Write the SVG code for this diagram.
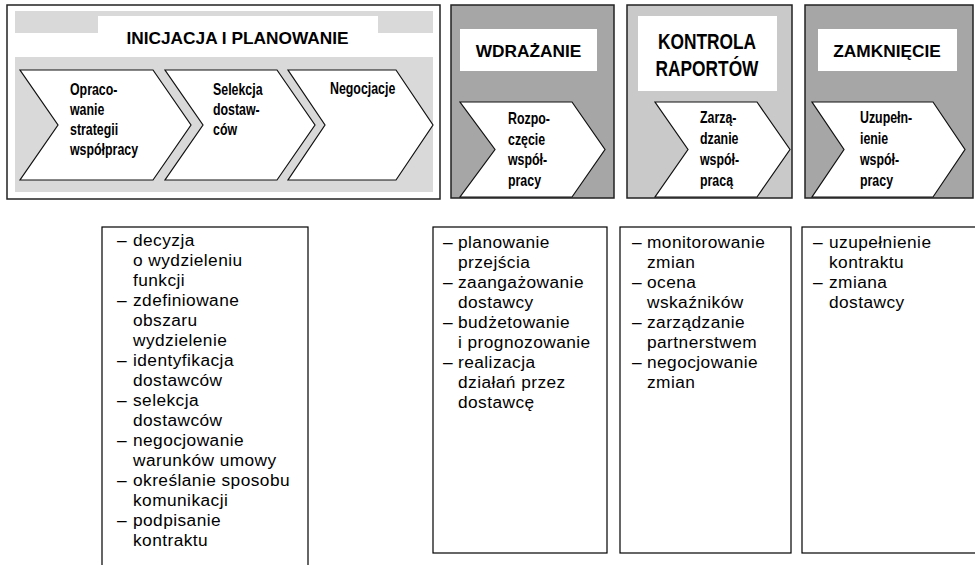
<svg xmlns="http://www.w3.org/2000/svg" width="975" height="565" viewBox="0 0 975 565">
<style>
.frame{stroke:#222;stroke-width:1.5}
.chev{fill:#fff;stroke:#111;stroke-width:1.2;stroke-linejoin:miter}
.hd{font-family:"Liberation Sans",Arial,sans-serif;font-weight:bold;font-size:17.3px;fill:#000;text-anchor:middle}
.ct{font-family:"Liberation Sans",Arial,sans-serif;font-weight:bold;font-size:16.5px;fill:#000}
.lst{font-family:"Liberation Sans",Arial,sans-serif;font-size:17.3px;letter-spacing:0.45px;fill:#000}
.lbox{fill:#fff;stroke:#000;stroke-width:1.2}
</style>
<rect width="975" height="565" fill="#fff"/>

<g id="initiation">
  <rect class="frame" x="7" y="5" width="433" height="194" fill="#fff"/>
  <rect x="15" y="11" width="418" height="22" fill="#d9d9d9"/>
  <rect x="15" y="57" width="418" height="135" fill="#d9d9d9"/>
  <rect x="98" y="16" width="280" height="41" fill="#fff"/>
  <text class="hd" x="237.5" y="44">INICJACJA I PLANOWANIE</text>
  <g id="step-opracowanie">
    <polygon class="chev" points="20,70 153,70 191,125 153,180 20,180 58,125"/>
    <text class="ct" transform="translate(70,0) scale(0.75,1)"><tspan x="0" y="95">Opraco-</tspan><tspan x="0" y="115">wanie</tspan><tspan x="0" y="135">strategii</tspan><tspan x="0" y="155">współpracy</tspan></text>
  </g>
  <g id="step-selekcja">
    <polygon class="chev" points="165,70 277,70 315,125 277,180 165,180 203,125"/>
    <text class="ct" transform="translate(213,0) scale(0.75,1)"><tspan x="0" y="95">Selekcja</tspan><tspan x="0" y="115">dostaw-</tspan><tspan x="0" y="135">ców</tspan></text>
  </g>
  <g id="step-negocjacje">
    <polygon class="chev" points="288,70 396,70 433,125 396,180 288,180 325,125"/>
    <text class="ct" transform="translate(330,0) scale(0.75,1)"><tspan x="0" y="94">Negocjacje</tspan></text>
  </g>
</g>

<g id="wdrazanie">
  <rect class="frame" x="451" y="5" width="163" height="193" fill="#a6a6a6"/>
  <rect x="460" y="29" width="137" height="42" fill="#fff"/>
  <text class="hd" x="528.5" y="57">WDRAŻANIE</text>
  <polygon class="chev" points="460,102 572,102 605,149.5 572,197 460,197 495,149.5"/>
  <text class="ct" transform="translate(508,0) scale(0.75,1)"><tspan x="0" y="124">Rozpo-</tspan><tspan x="0" y="145">częcie</tspan><tspan x="0" y="165.5">współ-</tspan><tspan x="0" y="186">pracy</tspan></text>
</g>

<g id="kontrola">
  <rect class="frame" x="627" y="5" width="165" height="193" fill="#c9c9c9"/>
  <rect x="638" y="16" width="139" height="75" fill="#fff"/>
  <text class="hd" style="font-size:22.5px" transform="translate(707,0) scale(0.77,1)"><tspan x="0" y="49">KONTROLA</tspan><tspan x="0" y="76">RAPORTÓW</tspan></text>
  <polygon class="chev" points="655,102 757,102 790,149.5 757,197 655,197 688,149.5"/>
  <text class="ct" transform="translate(700,0) scale(0.75,1)"><tspan x="0" y="123">Zarzą-</tspan><tspan x="0" y="144">dzanie</tspan><tspan x="0" y="165">współ-</tspan><tspan x="0" y="186">pracą</tspan></text>
</g>

<g id="zamkniecie">
  <rect class="frame" x="805" y="5" width="168" height="193" fill="#a6a6a6"/>
  <rect x="818" y="29" width="139" height="42" fill="#fff"/>
  <text class="hd" x="887" y="57">ZAMKNIĘCIE</text>
  <polygon class="chev" points="812,102 933,102 965,149.5 933,197 812,197 844,149.5"/>
  <text class="ct" transform="translate(860,0) scale(0.75,1)"><tspan x="0" y="123">Uzupełn-</tspan><tspan x="0" y="144">ienie</tspan><tspan x="0" y="165">współ-</tspan><tspan x="0" y="186">pracy</tspan></text>
</g>

<g id="connectors"></g>

<g id="list-initiation">
  <rect class="lbox" x="102" y="227" width="206" height="350"/>
  <text class="lst">
    <tspan x="117" y="246">–</tspan><tspan x="133" y="246">decyzja</tspan>
    <tspan x="133" y="266">o wydzieleniu</tspan>
    <tspan x="133" y="286">funkcji</tspan>
    <tspan x="117" y="306">–</tspan><tspan x="133" y="306">zdefiniowane</tspan>
    <tspan x="133" y="326">obszaru</tspan>
    <tspan x="133" y="346">wydzielenie</tspan>
    <tspan x="117" y="366">–</tspan><tspan x="133" y="366">identyfikacja</tspan>
    <tspan x="133" y="386">dostawców</tspan>
    <tspan x="117" y="406">–</tspan><tspan x="133" y="406">selekcja</tspan>
    <tspan x="133" y="426">dostawców</tspan>
    <tspan x="117" y="446">–</tspan><tspan x="133" y="446">negocjowanie</tspan>
    <tspan x="133" y="466">warunków umowy</tspan>
    <tspan x="117" y="486">–</tspan><tspan x="133" y="486">określanie sposobu</tspan>
    <tspan x="133" y="506">komunikacji</tspan>
    <tspan x="117" y="526">–</tspan><tspan x="133" y="526">podpisanie</tspan>
    <tspan x="133" y="546">kontraktu</tspan>
  </text>
</g>

<g id="list-wdrazanie">
  <rect class="lbox" x="433" y="227" width="174" height="326"/>
  <text class="lst">
    <tspan x="443" y="248">–</tspan><tspan x="458" y="248">planowanie</tspan>
    <tspan x="458" y="268">przejścia</tspan>
    <tspan x="443" y="288">–</tspan><tspan x="458" y="288">zaangażowanie</tspan>
    <tspan x="458" y="308">dostawcy</tspan>
    <tspan x="443" y="328">–</tspan><tspan x="458" y="328">budżetowanie</tspan>
    <tspan x="458" y="348">i prognozowanie</tspan>
    <tspan x="443" y="368">–</tspan><tspan x="458" y="368">realizacja</tspan>
    <tspan x="458" y="388">działań przez</tspan>
    <tspan x="458" y="408">dostawcę</tspan>
  </text>
</g>

<g id="list-kontrola">
  <rect class="lbox" x="620" y="227" width="171" height="326"/>
  <text class="lst">
    <tspan x="632" y="248">–</tspan><tspan x="647" y="248">monitorowanie</tspan>
    <tspan x="647" y="268">zmian</tspan>
    <tspan x="632" y="288">–</tspan><tspan x="647" y="288">ocena</tspan>
    <tspan x="647" y="308">wskaźników</tspan>
    <tspan x="632" y="328">–</tspan><tspan x="647" y="328">zarządzanie</tspan>
    <tspan x="647" y="348">partnerstwem</tspan>
    <tspan x="632" y="368">–</tspan><tspan x="647" y="368">negocjowanie</tspan>
    <tspan x="647" y="388">zmian</tspan>
  </text>
</g>

<g id="list-zamkniecie">
  <rect class="lbox" x="802" y="227" width="190" height="326"/>
  <text class="lst">
    <tspan x="813" y="248">–</tspan><tspan x="829" y="248">uzupełnienie</tspan>
    <tspan x="829" y="268">kontraktu</tspan>
    <tspan x="813" y="288">–</tspan><tspan x="829" y="288">zmiana</tspan>
    <tspan x="829" y="308">dostawcy</tspan>
  </text>
</g>
</svg>
